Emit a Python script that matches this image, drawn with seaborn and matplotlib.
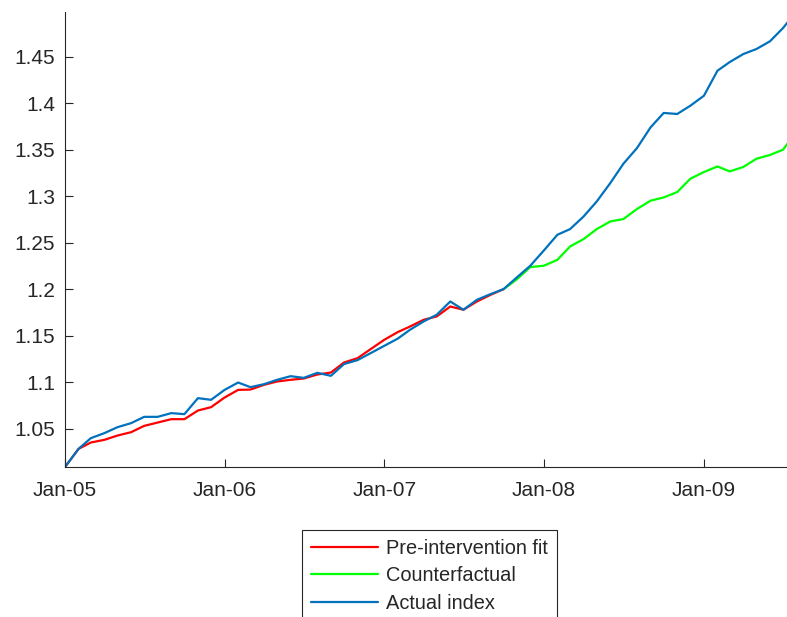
import numpy as np
import pandas as pd
import matplotlib
matplotlib.use("Agg")
import matplotlib.pyplot as plt
import matplotlib.dates as mdates
from matplotlib.ticker import FuncFormatter
import seaborn as sns

# Dados mensais (Jan-05 em diante)
meses = pd.date_range("2005-01-01", periods=56, freq="MS")

indice_real = [1.009, 1.0285, 1.040, 1.0454, 1.0518, 1.0561, 1.0629, 1.0629, 1.0669, 1.0658,
               1.083, 1.0812, 1.0919, 1.0998, 1.0948, 1.098, 1.1027, 1.1066, 1.1048, 1.1102,
               1.107, 1.1196, 1.1239, 1.1314, 1.1392, 1.147, 1.1565, 1.1654, 1.1726, 1.1869,
               1.178, 1.1887, 1.1948, 1.2002, 1.2131, 1.2253, 1.2417, 1.2586, 1.2647, 1.2783,
               1.2944, 1.3142, 1.335, 1.3518, 1.374, 1.3895, 1.3884, 1.3973, 1.408, 1.4349,
               1.4442, 1.4528, 1.4582, 1.4665, 1.4808, 1.499]

ajuste_pre = [1.009, 1.0285, 1.0353, 1.0382, 1.0428, 1.0464, 1.0532, 1.0568, 1.0604, 1.0604,
              1.0697, 1.0733, 1.0837, 1.0919, 1.0922, 1.0973, 1.1009, 1.1027, 1.1041, 1.1084,
              1.1105, 1.1213, 1.126, 1.1357, 1.1457, 1.154, 1.16, 1.1672, 1.1708, 1.1815,
              1.178, 1.1869, 1.194, 1.2002]

contrafactual = [1.2002, 1.211, 1.2239, 1.2253, 1.2317, 1.246, 1.254, 1.2647, 1.2729, 1.2755,
                 1.2863, 1.2952, 1.2987, 1.3045, 1.3188, 1.326, 1.332, 1.3267, 1.3314, 1.3403,
                 1.3443, 1.35, 1.37]

rotulos = ["Pre-intervention fit", "Counterfactual", "Actual index"]
cores = ["#FF0000", "#00FF00", "#0072BD"]

df_real = pd.DataFrame({"data": meses, "valor": indice_real})
df_pre = pd.DataFrame({"data": meses[:len(ajuste_pre)], "valor": ajuste_pre})
df_cf = pd.DataFrame({"data": meses[len(ajuste_pre) - 1:], "valor": contrafactual})

sns.set_style("ticks")
plt.rcParams["font.family"] = ["Liberation Sans", "DejaVu Sans"]
cinza = "#262626"

fig = plt.figure(figsize=(7.87, 6.17), dpi=100)
ax = fig.add_axes([65 / 787, 1 - 467 / 617, 1 - 65 / 787, (467 - 12) / 617])

sns.lineplot(data=df_pre, x="data", y="valor", ax=ax, color=cores[0], lw=1.6, label=rotulos[0])
sns.lineplot(data=df_cf, x="data", y="valor", ax=ax, color=cores[1], lw=1.6, label=rotulos[1])
sns.lineplot(data=df_real, x="data", y="valor", ax=ax, color=cores[2], lw=1.6, label=rotulos[2])

ax.set_xlim(pd.Timestamp("2005-01-01"), pd.Timestamp("2009-07-10"))
ax.set_ylim(1.009, 1.498)
ax.set_yticks([1.05, 1.1, 1.15, 1.2, 1.25, 1.3, 1.35, 1.4, 1.45])
ax.yaxis.set_major_formatter(FuncFormatter(lambda v, p: f"{v:g}"))
ax.xaxis.set_major_locator(mdates.YearLocator())
ax.xaxis.set_major_formatter(mdates.DateFormatter("%b-%y"))
ax.set_xlabel("")
ax.set_ylabel("")

for lado in ["top", "right"]:
    ax.spines[lado].set_visible(False)
for lado in ["left", "bottom"]:
    ax.spines[lado].set_color(cinza)
    ax.spines[lado].set_linewidth(0.8)
ax.tick_params(direction="in", length=5.5, width=0.8, color=cinza, labelcolor=cinza, labelsize=15)
ax.tick_params(axis="x", pad=10)
ax.tick_params(axis="y", pad=7)

ax.legend(loc="upper left", bbox_to_anchor=(302 / 787, 1 - 530 / 617),
          bbox_transform=fig.transFigure, fontsize=14.4, frameon=True, fancybox=False,
          edgecolor=cinza, framealpha=1, handlelength=3.35, handletextpad=0.4,
          labelspacing=0.42, borderpad=0.45, borderaxespad=0)
ax.get_legend().get_frame().set_linewidth(0.8)

plt.savefig("out.png", dpi=100)
